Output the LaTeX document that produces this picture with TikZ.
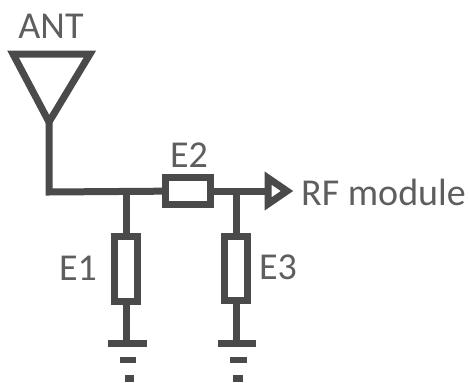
\documentclass[tikz,border=0pt]{standalone}
\usepackage{fontspec}
\setmainfont{Carlito}
\definecolor{wirecol}{HTML}{4A4A4A}
\definecolor{textcol}{HTML}{5E5E5E}
\tikzset{
    wire/.style={draw=wirecol, line width=7pt},
    label/.style={text=textcol, font=\fontsize{38}{38}\selectfont, inner sep=0pt},
}
\begin{document}
\begin{tikzpicture}[x=1pt, y=-1pt]
            \useasboundingbox (0,0) rectangle (469,383);
            \begin{scope}[every node/.style={rectangle, wire, fill=white, inner sep=0pt}]

                \node[minimum width=45pt, minimum height=27pt] (E2) at (188,191) {};
                \node[minimum width=23pt, minimum height=65pt] (E1) at (126,269) {};
                \node[minimum width=23pt, minimum height=64pt] (E3) at (236,268) {};

            \end{scope}

            \coordinate (anttip) at (49,122);
            \coordinate (antl) at (13,54);
            \coordinate (antr) at (90,54);
            \coordinate (corner) at (49,192);
            \coordinate (j1) at (126,192);
            \coordinate (j2) at (236,192);
            \coordinate (arrl) at (268,191);
            \coordinate (arrt) at (268,178);
            \coordinate (arrb) at (268,204);
            \coordinate (arrr) at (287,191);
            \coordinate (gnd1) at (126,343);
            \coordinate (gnd2) at (236,343);
            \coordinate (gnd1l) at (108,343);
            \coordinate (gnd1r) at (147,343);
            \coordinate (gnd2l) at (218,343);
            \coordinate (gnd2r) at (256,343);
            \coordinate (mid1l) at (120,360);
            \coordinate (mid1r) at (136,360);
            \coordinate (mid2l) at (230,360);
            \coordinate (mid2r) at (247,360);
            \coordinate (dot1l) at (125,378);
            \coordinate (dot1r) at (134,378);
            \coordinate (dot2l) at (233,378);
            \coordinate (dot2r) at (243,378);

            % antenna and feed
            \draw[wire] (antl) -- (antr) -- (anttip) -- cycle;
            \draw[wire] (anttip) -- (corner) -- (E2);
            \draw[wire] (E2) -- (arrl);
            \draw[wire] (arrt) -- (arrr) -- (arrb) -- cycle;

            % shunt branches
            \draw[wire] (j1) -- (E1);
            \draw[wire] (j2) -- (E3);
            \draw[wire] (E1) -- (gnd1);
            \draw[wire] (E3) -- (gnd2);

            % ground symbols
            \draw[wire] (gnd1l) -- (gnd1r);
            \draw[wire] (gnd2l) -- (gnd2r);
            \draw[wire, line width=6pt] (mid1l) -- (mid1r);
            \draw[wire, line width=6pt] (mid2l) -- (mid2r);
            \draw[wire, line width=7pt] (dot1l) -- (dot1r);
            \draw[wire, line width=7pt] (dot2l) -- (dot2r);

            \node[label] (antlabel) at (51,26) {ANT};
            \node[label] (e2label) at (189,155) {E2};
            \node[label] (e1label) at (78,268) {E1};
            \node[label] (e3label) at (278,267) {E3};
            \node[label, anchor=west] (rflabel) at (301,192) {RF module};
        \end{tikzpicture}
\end{document}
